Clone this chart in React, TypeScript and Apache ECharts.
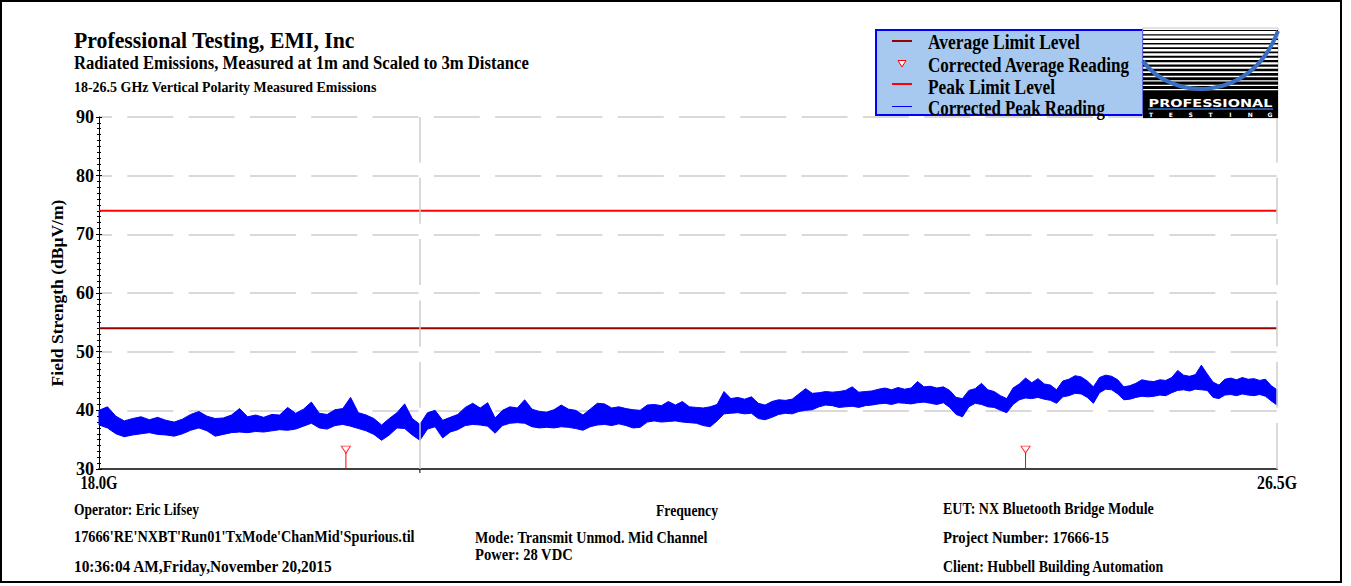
import { useEffect, useRef } from "react";
import * as echarts from "echarts";

// Corrected peak trace: upper and lower edge of the noise band (dBµV/m),
// one pair every 0.05 GHz starting at 18.0 GHz
const FREQ_START_GHZ = 18.0;
const FREQ_STEP_GHZ = 0.05;
const peakUpper = [
  40.0, 40.6, 39.0, 38.2, 38.6, 38.9, 38.4, 38.8, 38.3, 38.0,
  38.5, 39.3, 39.8, 39.0, 38.6, 38.7, 39.2, 40.3, 38.9, 39.2,
  38.8, 39.3, 39.2, 40.5, 39.5, 40.2, 41.4, 39.5, 39.3, 40.1,
  40.3, 42.2, 39.6, 39.2, 38.6, 37.5, 38.6, 39.6, 41.1, 38.6,
  37.6, 39.6, 40.0, 38.3, 38.8, 39.3, 40.5, 41.2, 40.4, 41.3,
  38.7, 40.0, 40.6, 40.4, 41.8, 40.2, 39.8, 39.7, 40.1, 40.9,
  40.2, 40.0, 39.2, 40.2, 41.2, 41.1, 40.4, 40.6, 40.3, 40.1,
  40.0, 40.9, 41.0, 40.8, 41.5, 40.9, 41.5, 40.6, 40.5, 40.4,
  40.6, 41.0, 43.2, 42.0, 42.2, 41.9, 42.3, 41.2, 40.9, 41.5,
  41.8, 41.7, 41.9, 42.8, 43.7, 42.9, 43.0, 43.2, 43.1, 43.2,
  43.4, 44.0, 43.1, 43.2, 43.3, 43.6, 43.8, 43.5, 43.9, 43.6,
  43.8, 44.9, 44.0, 44.1, 43.8, 44.0, 43.4, 42.2, 42.0, 43.4,
  43.7, 44.6, 43.5, 43.2, 42.5, 42.0, 43.8, 44.5, 45.5, 44.7,
  45.4, 44.5, 44.3, 43.5, 45.0, 45.3, 45.9, 45.7, 45.0, 44.0,
  45.6, 46.0, 45.8, 45.2, 44.0, 44.2, 44.6, 45.2, 45.0, 44.9,
  45.2, 45.1, 45.6, 46.8, 46.0, 45.8, 46.1, 47.7, 46.2, 44.8,
  44.3, 45.3, 45.5, 45.2, 45.6, 45.3, 45.4, 45.1, 45.3, 44.2, 43.5,
];
const peakLower = [
  37.5, 37.0, 36.0, 35.5, 35.8, 36.0, 36.2, 35.9, 35.8, 35.6,
  36.0, 36.6, 37.0, 36.5, 35.6, 35.9, 36.2, 36.3, 36.2, 36.4,
  36.3, 36.5, 36.7, 36.6, 36.8, 37.3, 37.8, 37.0, 36.8, 37.4,
  37.6, 37.3, 36.9, 36.5, 35.9, 34.9, 35.8, 37.0, 36.9, 35.8,
  34.9, 36.8, 37.2, 35.3, 36.3, 36.7, 37.4, 37.6, 37.5, 37.3,
  36.1, 37.4, 37.8, 37.9, 37.8, 37.2, 37.0, 37.1, 37.0, 37.2,
  37.1, 36.9, 36.6, 37.2, 37.5, 37.6, 37.4, 37.7, 37.4, 37.0,
  37.1, 38.0, 38.2, 38.0, 38.1, 38.2, 38.0, 37.9, 37.8, 37.4,
  37.2, 38.2, 39.4, 39.5, 39.6, 39.4, 39.5, 38.6, 38.4, 38.8,
  39.3, 39.5, 39.4, 39.8, 40.0, 40.1, 40.6, 40.9, 40.8, 40.5,
  40.6, 40.7, 40.5, 40.8, 40.9, 41.1, 41.2, 41.0, 41.3, 41.2,
  41.1, 41.3, 41.4, 41.2, 41.0, 41.3, 40.5, 39.3, 38.9, 40.6,
  41.2, 41.0, 40.6, 40.5, 40.0, 39.6, 41.0, 41.8, 42.1, 42.0,
  42.2, 41.9, 41.7, 41.2, 42.3, 42.5, 42.9, 42.8, 42.2, 41.2,
  43.0, 43.6, 43.5, 42.8, 41.8, 41.9, 42.2, 42.4, 42.3, 42.4,
  42.6, 42.5, 43.0, 43.4, 43.5, 43.3, 43.6, 43.5, 43.4, 42.2,
  42.0, 42.6, 42.7, 42.5, 42.8, 42.6, 42.5, 42.7, 42.4, 41.6, 40.9,
];

// Limits and the corrected average readings
const averageLimitLevel = 54;
const peakLimitLevel = 74;
const avgReadingFreqsGHz = [19.52, 24.4];
const avgReadingLevels = [33.3, 33.3];

// Axes
const Y_MIN = 30;
const Y_MAX = 90;
const Y_INTERVAL = 10;
const X_MIN_GHZ = 18.0;
const X_MAX_GHZ = 26.5;
const xLabelFreqs = [18.0, 26.5];
const xGridFreqs = [20.0, 26.5];
const xTickFreqs = [20.0];

// Texts
const titleLines = [
  "Professional Testing, EMI, Inc",
  "Radiated Emissions, Measured at 1m and Scaled to 3m Distance",
  "18-26.5 GHz Vertical Polarity Measured Emissions",
];
const legendNames = [
  "Average Limit Level",
  "Corrected Average Reading",
  "Peak Limit Level",
  "Corrected Peak Reading",
];
const yAxisName = "Field Strength (dBµV/m)";
const xAxisName = "Frequency";
const infoLeft = [
  "Operator: Eric Lifsey",
  "17666'RE'NXBT'Run01'TxMode'ChanMid'Spurious.til",
  "10:36:04 AM,Friday,November 20,2015",
];
const infoMiddle = ["Mode: Transmit Unmod. Mid Channel", "Power: 28 VDC"];
const infoRight = [
  "EUT: NX Bluetooth Bridge Module",
  "Project Number: 17666-15",
  "Client: Hubbell Building Automation",
];

const SERIF = '"Liberation Serif", "Times New Roman", serif';
const SANS = '"DejaVu Sans", "Liberation Sans", sans-serif';
const AVG_LIMIT_COLOR = "#990000";
const PEAK_LIMIT_COLOR = "#FF0000";
const TRACE_COLOR = "#0000FF";
const GRID_COLOR = "#CDCDCD";

let measureCtx: CanvasRenderingContext2D | null = null;
function textWidth(text: string, size: number, family: string) {
  if (!measureCtx) measureCtx = document.createElement("canvas").getContext("2d");
  measureCtx!.font = `bold ${size}px ${family}`;
  return measureCtx!.measureText(text).width;
}

// Bold text squeezed horizontally to a given width
function txt(
  text: string,
  x: number,
  y: number,
  size: number,
  width: number,
  align: "left" | "center" | "right" = "left",
  extra: any = {},
  family = SERIF,
  fill = "#000"
) {
  const w = textWidth(text, size, family);
  return {
    type: "text",
    x,
    y,
    z: 50,
    silent: true,
    scaleX: width > 0 ? width / w : 1,
    style: {
      text,
      fill,
      fontSize: size,
      fontFamily: family,
      fontWeight: "bold",
      align,
      verticalAlign: "middle",
      textAlign: align,
      textVerticalAlign: "middle",
    },
    ...extra,
  };
}

function buildLogo(x: number, y: number, w: number, h: number) {
  const els: any[] = [];
  els.push({ type: "rect", z: 40, shape: { x, y, width: w, height: h }, style: { fill: "#FFFFFF", stroke: "#C8C8C8", lineWidth: 1 } });
  const stripeTop = y + 2;
  for (let i = 0; i < 15; i++) {
    els.push({
      type: "rect",
      z: 41,
      shape: { x, y: stripeTop + i * 4.3, width: w, height: 1 + i * 0.17 },
      style: { fill: "#000000" },
    });
  }
  els.push({
    type: "bezierCurve",
    z: 42,
    shape: { x1: x, y1: y + 33, cpx1: x + 27, cpy1: y + 72, cpx2: x + 107, cpy2: y + 77, x2: x + w, y2: y + 3 },
    style: { stroke: "#3A6FC4", lineWidth: 4, fill: "none" },
  });
  els.push({ type: "rect", z: 43, shape: { x, y: y + 64, width: w, height: h - 64 }, style: { fill: "#000000" } });
  els.push(txt("PROFESSIONAL", x + w / 2, y + 75, 11, 124, "center", { z: 44 }, SANS, "#FFFFFF"));
  els.push({ type: "line", z: 44, shape: { x1: x + 5, y1: y + 81, x2: x + w - 5, y2: y + 81 }, style: { stroke: "#3A6FC4", lineWidth: 1.5 } });
  const letters = "TESTING".split("");
  letters.forEach((ch, i) => {
    els.push(txt(ch, x + 8 + i * ((w - 16) / (letters.length - 1)), y + 86, 6, 0, "center", { z: 44 }, SANS, "#FFFFFF"));
  });
  return els;
}

function buildLegend() {
  const bx = 876;
  const by = 30;
  const els: any[] = [];
  els.push({ type: "rect", z: 30, shape: { x: bx, y: by, width: 267, height: 85 }, style: { fill: "#A8C9EF", stroke: "#0000FF", lineWidth: 2 } });
  const rowY = [42, 64.5, 86.5, 108];
  const widths = [152, 202, 127, 177];
  els.push({ type: "line", z: 31, shape: { x1: 892, y1: 41, x2: 912, y2: 41 }, style: { stroke: AVG_LIMIT_COLOR, lineWidth: 2 } });
  els.push({ type: "polygon", z: 31, shape: { points: [[898, 60.5], [906, 60.5], [902, 67]] }, style: { fill: "#FFFFFF", stroke: PEAK_LIMIT_COLOR, lineWidth: 1 } });
  els.push({ type: "line", z: 31, shape: { x1: 892, y1: 84, x2: 912, y2: 84 }, style: { stroke: PEAK_LIMIT_COLOR, lineWidth: 2 } });
  els.push({ type: "line", z: 31, shape: { x1: 892, y1: 106.5, x2: 912, y2: 106.5 }, style: { stroke: TRACE_COLOR, lineWidth: 1 } });
  legendNames.forEach((name, i) => els.push(txt(name, 928, rowY[i], 21, widths[i], "left", { z: 32 })));
  return els;
}

export default function App() {
  const ref = useRef<HTMLDivElement>(null);

  useEffect(() => {
    if (!ref.current) return;
    const chart = echarts.init(ref.current, undefined, { renderer: "svg" });

    const freqs = peakUpper.map((_, i) => +(FREQ_START_GHZ + i * FREQ_STEP_GHZ).toFixed(3));
    const traceData = freqs.map((f, i) => [f, peakUpper[i], peakLower[i]]);

    const stemSeries = avgReadingFreqsGHz.map((f, i) => ({
      type: "line",
      name: "stem" + i,
      z: 5,
      silent: true,
      symbol: "none",
      lineStyle: { color: PEAK_LIMIT_COLOR, width: 1 },
      data: [
        [f, Y_MIN],
        [f, avgReadingLevels[i]],
      ],
    }));

    const yAxisBase = {
      type: "value",
      min: Y_MIN,
      max: Y_MAX,
      interval: Y_INTERVAL,
      position: "left",
    };

    chart.setOption({
      animation: false,
      backgroundColor: "#FFFFFF",
      grid: { left: 99, top: 117, width: 1178, height: 352 },
      xAxis: {
        type: "log",
        logBase: 10,
        min: X_MIN_GHZ,
        max: X_MAX_GHZ,
        axisLine: { show: true, onZero: false, lineStyle: { color: "#404040", width: 2 } },
        axisTick: { show: false },
        axisLabel: { show: false },
        splitLine: { show: false },
        minorTick: { show: false },
      },
      yAxis: [
        {
          ...yAxisBase,
          axisLine: { show: true, lineStyle: { color: "#000", width: 1 } },
          axisTick: { show: true, inside: false, length: 3, lineStyle: { color: "#000", width: 1 } },
          minorTick: { show: true, splitNumber: 10, length: 2, lineStyle: { color: "#000", width: 1 } },
          axisLabel: {
            show: true,
            margin: 5,
            color: "#000",
            fontFamily: SERIF,
            fontWeight: "bold",
            fontSize: 18,
          },
          splitLine: {
            show: true,
            lineStyle: { color: GRID_COLOR, width: 1.5, type: [46, 15.3], dashOffset: 32.7 },
          },
        },
        {
          ...yAxisBase,
          axisLine: { show: false },
          axisTick: { show: true, inside: true, length: 3, lineStyle: { color: "#000", width: 1 } },
          minorTick: { show: true, splitNumber: 10, length: 2, lineStyle: { color: "#000", width: 1 } },
          axisLabel: { show: false },
          splitLine: { show: false },
        },
      ],
      series: [
        {
          type: "line",
          name: "grid",
          z: 1,
          silent: true,
          symbol: "none",
          lineStyle: { opacity: 0 },
          data: [[X_MIN_GHZ, Y_MIN]],
          markLine: {
            silent: true,
            symbol: ["none", "none"],
            label: { show: false },
            lineStyle: { color: GRID_COLOR, width: 1.5, type: [46, 15.3] },
            data: xGridFreqs.map((f) => [{ coord: [f, Y_MIN] }, { coord: [f, Y_MAX] }]),
          },
        },
        {
          // the peak trace is drawn as the band between its upper and lower edges
          type: "custom",
          name: "Corrected Peak Reading",
          coordinateSystem: "cartesian2d",
          z: 3,
          silent: true,
          encode: { x: 0, y: [1, 2] },
          data: traceData,
          renderItem: (params: any, api: any) => {
            if (params.dataIndex !== 0) return null;
            const top = traceData.map((d) => api.coord([d[0], d[1]]));
            const bottom = traceData.map((d) => api.coord([d[0], d[2]])).reverse();
            return {
              type: "polygon",
              shape: { points: top.concat(bottom) },
              style: { fill: TRACE_COLOR, stroke: TRACE_COLOR, lineWidth: 1 },
            };
          },
        },
        {
          type: "line",
          name: "Average Limit Level",
          z: 4,
          symbol: "none",
          silent: true,
          lineStyle: { color: AVG_LIMIT_COLOR, width: 2 },
          data: [
            [X_MIN_GHZ, averageLimitLevel],
            [X_MAX_GHZ, averageLimitLevel],
          ],
        },
        {
          type: "line",
          name: "Peak Limit Level",
          z: 4,
          symbol: "none",
          silent: true,
          lineStyle: { color: PEAK_LIMIT_COLOR, width: 2 },
          data: [
            [X_MIN_GHZ, peakLimitLevel],
            [X_MAX_GHZ, peakLimitLevel],
          ],
        },
        ...stemSeries,
        {
          type: "scatter",
          name: "Corrected Average Reading",
          z: 6,
          silent: true,
          symbol: "triangle",
          symbolRotate: 180,
          symbolSize: [9, 7],
          itemStyle: { color: "#FFFFFF", borderColor: PEAK_LIMIT_COLOR, borderWidth: 1 },
          data: avgReadingFreqsGHz.map((f, i) => [f, avgReadingLevels[i]]),
        },
      ],
    });

    const px = (f: number) => chart.convertToPixel({ xAxisIndex: 0 }, f) as number;
    const axisY = 469;

    const graphic: any[] = [];
    // outer frame
    graphic.push({ type: "rect", z: 60, silent: true, shape: { x: 1, y: 1, width: 1340, height: 581 }, style: { fill: "none", stroke: "#000", lineWidth: 2 } });
    // titles
    graphic.push(txt(titleLines[0], 74, 40, 23, 281));
    graphic.push(txt(titleLines[1], 74, 63, 19, 455));
    graphic.push(txt(titleLines[2], 74, 86.5, 15, 303));
    // legend and logo
    graphic.push(...buildLegend());
    graphic.push(...buildLogo(1143, 28, 135, 90));
    // y axis name
    graphic.push(txt(yAxisName, 58, 293, 16, 187, "center", { rotation: Math.PI / 2 }));
    // x axis labels and ticks
    const xLabelWidths = [37, 40];
    xLabelFreqs.forEach((f, i) => {
      graphic.push(txt(f.toFixed(1) + "G", px(f), 483, 18, xLabelWidths[i], "center"));
    });
    xTickFreqs.forEach((f) => {
      graphic.push({ type: "line", z: 20, silent: true, shape: { x1: px(f), y1: axisY, x2: px(f), y2: axisY + 4 }, style: { stroke: "#000", lineWidth: 1 } });
    });
    graphic.push(txt(xAxisName, 687, 510, 17, 62, "center"));
    // run information
    const leftW = [125, 341, 259];
    const leftY = [509, 536, 567];
    infoLeft.forEach((t, i) => graphic.push(txt(t, 74, leftY[i], 17, leftW[i])));
    const midW = [233, 98];
    const midY = [537, 554];
    infoMiddle.forEach((t, i) => graphic.push(txt(t, 475, midY[i], 17, midW[i])));
    const rightW = [211, 166, 221];
    const rightY = [508, 537, 566];
    infoRight.forEach((t, i) => graphic.push(txt(t, 943, rightY[i], 17, rightW[i])));

    chart.setOption({ graphic });

    return () => chart.dispose();
  }, []);

  return (
    <div
      ref={ref}
      style={{ position: "absolute", left: 0, top: 0, width: 1351, height: 586, background: "#fff" }}
    />
  );
}
